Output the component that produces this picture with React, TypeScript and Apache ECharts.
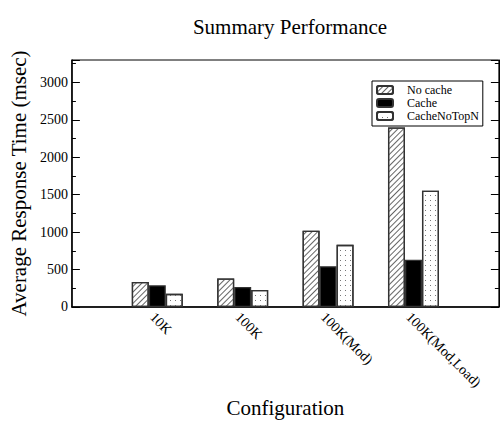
import React, { useEffect, useRef } from "react";
import * as echarts from "echarts";

const categories = ["", "10K", "100K", "100K(Mod)", "100K(Mod,Load)", ""];
const noCache = ["-", 335, 382, 1020, 2398, "-"];
const cache = ["-", 290, 268, 545, 630, "-"];
const cacheNoTopN = ["-", 175, 228, 830, 1553, "-"];
const seriesNames = ["No cache", "Cache", "CacheNoTopN"];

const FONT = "Liberation Serif";

export default function App() {
  const ref = useRef<HTMLDivElement>(null);
  useEffect(() => {
    if (!ref.current) return;
    const chart = echarts.init(ref.current, null, { renderer: "svg" });
    const border = { borderColor: "#333", borderWidth: 1.3 };
    chart.setOption({
      animation: false,
      backgroundColor: "#fff",
      textStyle: { fontFamily: FONT, color: "#000" },
      title: {
        text: "Summary Performance",
        left: 285,
        textAlign: "center",
        top: 11,
        textStyle: { fontFamily: FONT, fontSize: 21, fontWeight: "normal", color: "#000" },
      },
      legend: {
        orient: "vertical",
        left: 372,
        top: 81,
        data: seriesNames,
        itemWidth: 16,
        itemHeight: 8,
        itemGap: 1,
        padding: [3, 4, 4, 4],
        borderColor: "#000",
        borderWidth: 1,
        backgroundColor: "#fff",
        textStyle: { fontFamily: FONT, fontSize: 12, lineHeight: 12, color: "#000", padding: [0, 0, 0, 9] },
      },
      grid: { left: 67, top: 60, width: 435, height: 272, show: true, borderColor: "#000", borderWidth: 1, backgroundColor: "transparent" },
      xAxis: {
        type: "category",
        data: categories,
        boundaryGap: false,
        name: "Configuration",
        nameLocation: "middle",
        nameGap: 68,
        nameTextStyle: { fontFamily: FONT, fontSize: 21, color: "#000" },
        axisLine: { lineStyle: { color: "#000", width: 1.5 } },
        axisTick: { show: false },
        axisLabel: {
          rotate: -45,
          align: "left",
          verticalAlign: "top",
          fontFamily: FONT,
          fontSize: 14,
          color: "#000",
          margin: 3,
          interval: 0,
        },
        splitLine: { show: false },
      },
      yAxis: [
        {
          type: "value",
          min: 0,
          max: 3300,
          interval: 500,
          name: "Average Response Time (msec)",
          nameLocation: "middle",
          nameGap: 34,
          nameTextStyle: { fontFamily: FONT, fontSize: 21, color: "#000" },
          axisLine: { show: true, lineStyle: { color: "#000", width: 1.5 } },
          axisTick: { show: true, inside: true, length: 8, lineStyle: { color: "#000" } },
          minorTick: { show: true, splitNumber: 2, length: 4, lineStyle: { color: "#000" } },
          axisLabel: {
            fontFamily: FONT,
            fontSize: 14,
            color: "#000",
            margin: 4,
            showMaxLabel: false,
            formatter: (v: number) => String(v),
          },
          splitLine: { show: false },
        },
        {
          type: "value",
          position: "right",
          min: 0,
          max: 3300,
          interval: 500,
          axisLine: { show: true, lineStyle: { color: "#000", width: 1 } },
          axisTick: { show: true, inside: true, length: 8, lineStyle: { color: "#000" } },
          minorTick: { show: true, splitNumber: 2, length: 4, lineStyle: { color: "#000" } },
          axisLabel: { show: false },
          splitLine: { show: false },
        },
      ],
      series: [
        {
          name: seriesNames[0],
          type: "bar",
          data: noCache,
          barWidth: 17,
          barGap: "0%",
          itemStyle: {
            color: "#fff",
            ...border,
            decal: {
              symbol: "rect",
              symbolSize: 1,
              dashArrayX: [1, 0],
              dashArrayY: [1, 3],
              rotation: -Math.PI / 4,
              color: "#666",
            },
          },
        },
        {
          name: seriesNames[1],
          type: "bar",
          data: cache,
          barWidth: 17,
          barGap: "0%",
          itemStyle: { color: "#000", ...border },
        },
        {
          name: seriesNames[2],
          type: "bar",
          data: cacheNoTopN,
          barWidth: 17,
          barGap: "0%",
          itemStyle: {
            color: "#fff",
            ...border,
            decal: {
              symbol: "rect",
              symbolSize: 1,
              dashArrayX: [1, 4],
              dashArrayY: [1, 4],
              rotation: 0,
              color: "#777",
            },
          },
        },
      ],
    });
    return () => chart.dispose();
  }, []);
  return (
    <div
      ref={ref}
      style={{ position: "absolute", left: 0, top: 0, width: 501, height: 423 }}
    />
  );
}
